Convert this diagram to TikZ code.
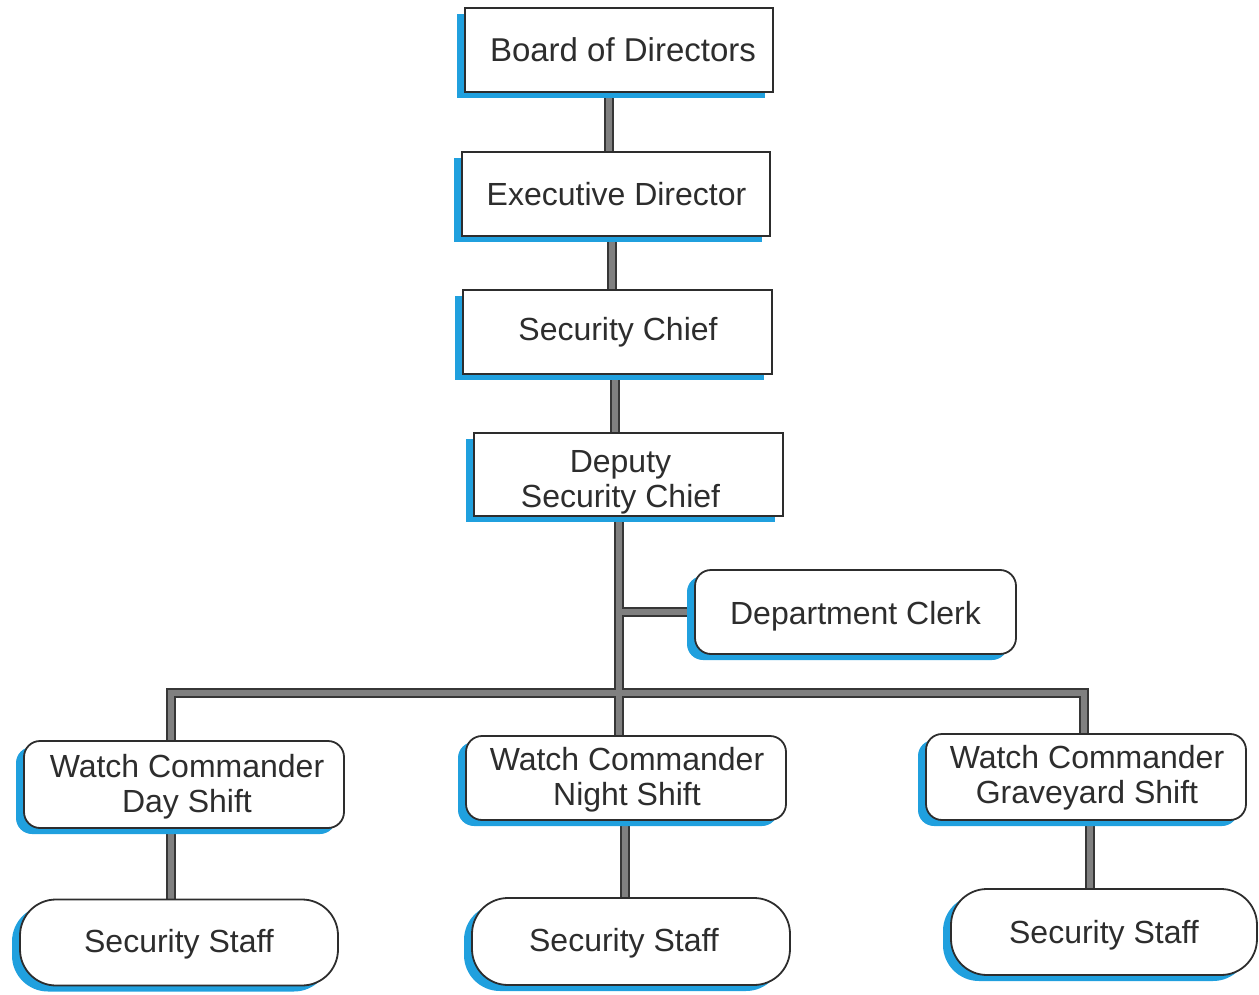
\documentclass[tikz,border=0pt]{standalone}
\usepackage{fontspec}
\setmainfont{Liberation Sans}
\usetikzlibrary{shadows}
\pgfdeclarelayer{background}
\pgfsetlayers{background,main}
\definecolor{shadowblue}{RGB}{32,160,222}
\definecolor{inkgray}{RGB}{45,45,45}
\definecolor{barfill}{RGB}{128,128,128}
\definecolor{barline}{RGB}{55,55,55}
% #1 = twice the horizontal shift, #2 = vertical raise, #3 = lines
\newcommand\boxtxt[3]{\raisebox{#2}[\height][\depth]{\hspace*{#1}\begin{tabular}{@{}c@{}}#3\end{tabular}}}
\begin{document}
\begin{tikzpicture}[x=1pt,y=-1pt,
  box/.style={draw=inkgray, line width=1.8pt, fill=white, inner sep=0pt,
    text=inkgray, font=\fontsize{32}{35}\selectfont,
    minimum width=308pt, minimum height=84pt,
    drop shadow={shadow xshift=-8pt, shadow yshift=-6pt, fill=shadowblue, opacity=1}},
  rbox/.style={box, rounded corners=16pt, minimum width=320pt},
  pill/.style={box, rounded corners=36pt, minimum width=318pt, minimum height=86pt},
  connout/.style={draw=barline, line width=10pt},
  connin/.style={draw=barfill, line width=6.5pt},
]
\useasboundingbox (0,0) rectangle (1259,995);

\node[box, font=\fontsize{33}{35}\selectfont] (board) at (619,50) {\boxtxt{8pt}{-5pt}{Board of Directors}};
\node[box] (exec) at (616,194) {\boxtxt{1pt}{-5pt}{Executive Director}};
\node[box, minimum width=309pt] (chief) at (617.5,332) {\boxtxt{1pt}{-1pt}{Security Chief}};
\node[box, minimum width=309pt, minimum height=83pt] (deputy) at (628.5,474.5) {\boxtxt{-16pt}{-8pt}{Deputy\\Security Chief}};
\node[rbox, minimum width=321pt] (clerk) at (855.5,612) {\boxtxt{0pt}{-5pt}{Department Clerk}};
\node[rbox, minimum height=87pt] (wcday) at (184,784.5) {\boxtxt{6pt}{-3pt}{Watch Commander\\Day Shift}};
\node[rbox] (wcnight) at (626,778) {\boxtxt{2pt}{-3pt}{Watch Commander\\Night Shift}};
\node[rbox, minimum height=86pt] (wcgrave) at (1086,777) {\boxtxt{2pt}{-2pt}{Watch Commander\\Graveyard Shift}};
\node[pill] (ss1) at (179,942.5) {\boxtxt{0pt}{-3pt}{Security Staff}};
\node[pill, minimum height=87pt] (ss2) at (631,941.5) {\boxtxt{-14pt}{-3pt}{Security Staff}};
\node[pill, minimum width=306pt] (ss3) at (1104,932) {\boxtxt{0pt}{-4pt}{Security Staff}};

\coordinate (bus) at (620,693);

\begin{pgfonlayer}{background}
\foreach \s in {connout,connin}{
  \draw[\s] ([xshift=-10pt]board.south) -- ([xshift=-10pt]board.south |- exec.north);
  \draw[\s] ([xshift=-4pt]exec.south) -- ([xshift=-4pt]exec.south |- chief.north);
  \draw[\s] ([xshift=-2.5pt]chief.south) -- ([xshift=-2.5pt]chief.south |- deputy.north);
  \draw[\s] ([xshift=-9.5pt]deputy.south) -- ([xshift=-9.5pt]deputy.south |- wcnight.north);
  \draw[\s] ([xshift=-9.5pt]deputy.south |- clerk.west) -- (clerk.west);
  \draw[\s] ([xshift=-13pt]wcday.north) -- ([xshift=-13pt]wcday.north |- bus)
            -- ([xshift=-2pt]wcgrave.north |- bus) -- ([xshift=-2pt]wcgrave.north);
  \draw[\s] ([xshift=-13pt]wcday.south) -- ([xshift=-13pt]wcday.south |- ss1.north);
  \draw[\s] ([xshift=-1pt]wcnight.south) -- ([xshift=-1pt]wcnight.south |- ss2.north);
  \draw[\s] ([xshift=4pt]wcgrave.south) -- ([xshift=4pt]wcgrave.south |- ss3.north);
}
\end{pgfonlayer}
\end{tikzpicture}
\end{document}
